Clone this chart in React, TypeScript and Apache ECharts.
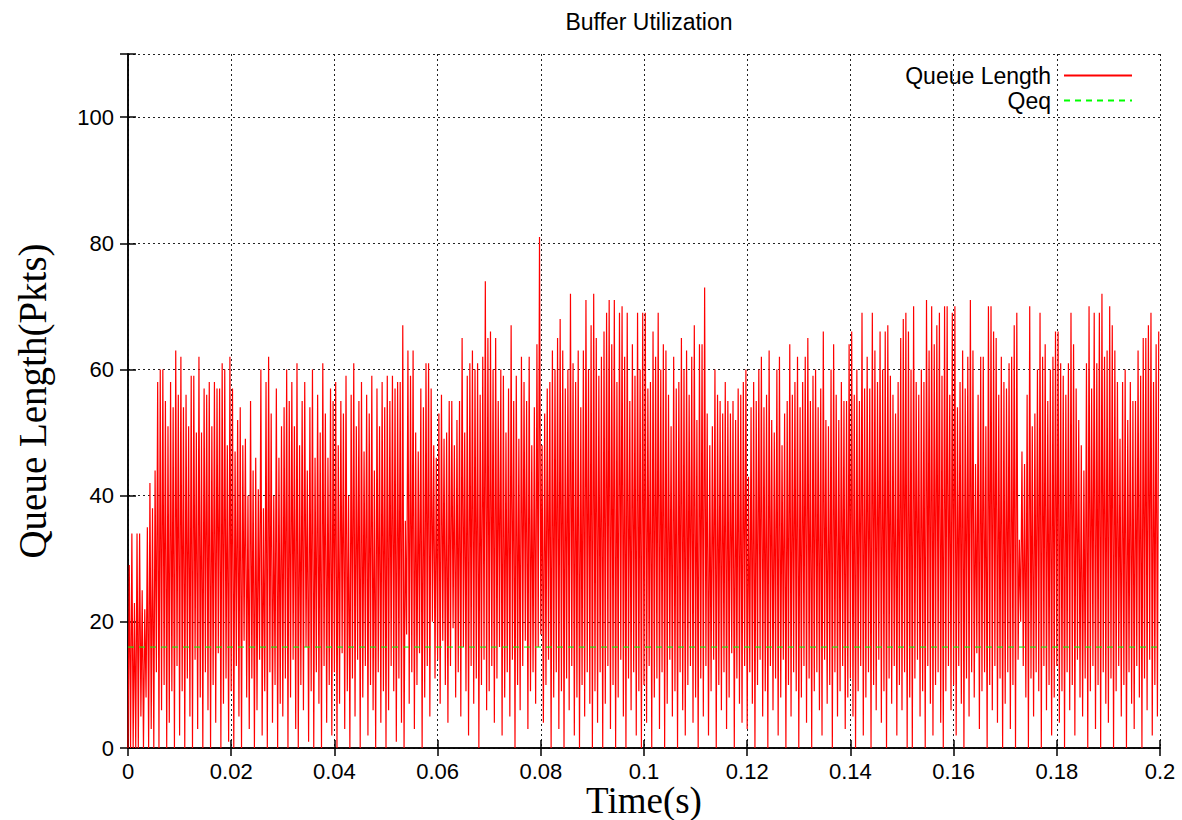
import React, { useEffect, useRef } from "react";
import * as echarts from "echarts";

// Sampling step of the queue trace (s); one peak and one trough per step
const stepSeconds = 0.0005;

// Per-cycle peak queue lengths (pkts), 20 cycles per 0.01 s row
const peaks: number[] = [
  29, 34, 23, 34, 34, 25, 22, 35, 42, 38, 44, 58, 60, 60, 55, 51, 58, 54, 63, 56,
  62, 54, 56, 51, 59, 59, 50, 62, 50, 57, 56, 58, 51, 58, 57, 57, 61, 60, 48, 62,
  57, 47, 52, 54, 48, 49, 40, 55, 44, 46, 41, 60, 38, 58, 62, 53, 40, 57, 46, 51,
  54, 60, 55, 58, 51, 61, 48, 55, 58, 44, 54, 60, 46, 56, 50, 61, 53, 46, 57, 55,
  58, 48, 55, 53, 59, 40, 56, 61, 51, 55, 58, 47, 56, 53, 59, 44, 57, 51, 58, 54,
  59, 55, 59, 57, 58, 58, 67, 36, 63, 59, 63, 50, 47, 57, 54, 61, 61, 57, 48, 46,
  53, 56, 49, 50, 55, 55, 48, 52, 55, 65, 50, 59, 61, 63, 60, 61, 56, 62, 74, 65,
  66, 60, 65, 55, 60, 59, 50, 57, 67, 55, 59, 49, 62, 58, 55, 62, 48, 54, 64, 81,
  48, 53, 57, 58, 63, 60, 65, 68, 63, 57, 60, 72, 61, 58, 63, 54, 63, 71, 60, 67,
  72, 65, 59, 62, 66, 69, 71, 64, 71, 58, 69, 70, 62, 69, 55, 64, 59, 69, 60, 69,
  69, 57, 58, 66, 62, 69, 60, 64, 63, 56, 51, 62, 57, 58, 65, 60, 63, 56, 62, 67,
  52, 64, 64, 73, 53, 48, 51, 60, 56, 55, 53, 58, 55, 53, 55, 52, 57, 56, 58, 60,
  43, 54, 58, 55, 60, 62, 54, 56, 63, 52, 50, 60, 62, 48, 53, 55, 64, 56, 58, 62,
  54, 58, 62, 65, 55, 59, 60, 54, 57, 66, 52, 51, 60, 64, 56, 52, 58, 55, 55, 64,
  66, 56, 60, 55, 69, 57, 62, 57, 69, 63, 58, 66, 60, 66, 67, 59, 56, 53, 58, 65,
  68, 69, 66, 60, 70, 58, 56, 60, 58, 71, 63, 70, 64, 67, 69, 59, 70, 70, 56, 69,
  70, 54, 58, 63, 57, 62, 71, 63, 45, 56, 62, 62, 51, 70, 70, 66, 65, 56, 62, 58,
  57, 61, 62, 67, 69, 33, 47, 45, 56, 70, 51, 53, 60, 69, 62, 64, 55, 60, 62, 66,
  66, 61, 59, 56, 61, 69, 64, 57, 52, 48, 44, 61, 70, 57, 69, 61, 69, 72, 62, 63,
  70, 67, 63, 58, 49, 58, 60, 52, 58, 55, 55, 63, 59, 65, 65, 67, 69, 58, 64, 66,
];

// Per-cycle trough queue lengths (pkts)
const troughs: number[] = [
  0, 0, 0, 0, 0, 5, 0, 8, 0, 3, 0, 12, 0, 6, 10, 0, 4, 9, 0, 13,
  2, 9, 0, 11, 5, 0, 14, 3, 8, 0, 12, 6, 0, 10, 4, 15, 0, 7, 11, 1,
  9, 0, 13, 5, 0, 17, 8, 3, 11, 0, 6, 14, 2, 9, 0, 12, 4, 10, 0, 7,
  5, 11, 0, 8, 14, 3, 0, 10, 6, 16, 1, 9, 0, 12, 7, 0, 13, 4, 10, 2,
  12, 0, 7, 15, 3, 9, 0, 11, 5, 14, 0, 8, 13, 2, 10, 6, 0, 12, 4, 9,
  0, 6, 13, 9, 1, 11, 4, 0, 18, 7, 12, 3, 10, 15, 0, 8, 13, 5, 20, 11,
  14, 7, 17, 10, 4, 13, 19, 8, 12, 5, 16, 9, 2, 13, 7, 11, 0, 10, 14, 6,
  9, 13, 4, 11, 16, 2, 8, 12, 5, 14, 0, 10, 6, 13, 17, 3, 9, 12, 7, 16,
  18, 4, 10, 14, 0, 8, 12, 3, 9, 0, 11, 6, 13, 2, 8, 0, 10, 5, 12, 7,
  0, 9, 4, 12, 0, 7, 13, 3, 10, 0, 8, 14, 5, 0, 11, 6, 12, 2, 9, 0,
  10, 4, 13, 0, 8, 11, 3, 12, 0, 7, 14, 5, 9, 0, 12, 6, 2, 10, 13, 4,
  8, 0, 11, 5, 13, 2, 9, 14, 0, 10, 6, 12, 3, 8, 15, 0, 11, 7, 4, 13,
  3, 12, 7, 0, 10, 14, 5, 9, 0, 13, 6, 11, 2, 8, 14, 0, 10, 5, 12, 9,
  0, 8, 13, 4, 11, 0, 9, 12, 6, 2, 14, 7, 10, 0, 12, 5, 9, 13, 3, 8,
  11, 5, 0, 9, 13, 2, 8, 12, 0, 10, 6, 14, 4, 9, 0, 11, 7, 13, 2, 10,
  6, 12, 0, 8, 0, 11, 14, 5, 9, 0, 13, 7, 2, 10, 12, 4, 0, 9, 13, 6,
  10, 2, 13, 7, 0, 11, 5, 12, 8, 15, 3, 9, 12, 0, 10, 6, 13, 4, 11, 0,
  7, 12, 3, 10, 0, 14, 20, 13, 8, 0, 11, 5, 12, 9, 0, 13, 6, 10, 2, 8,
  13, 4, 9, 0, 12, 6, 10, 2, 14, 8, 5, 11, 0, 9, 13, 3, 10, 0, 12, 7,
  4, 11, 0, 9, 13, 5, 10, 0, 12, 7, 3, 13, 8, 0, 11, 6, 14, 2, 10, 5,
];

// Equilibrium queue length (pkts)
const qeqValue = 16;
const timeRange = [0, 0.2];

const titleText = "Buffer Utilization";
const xName = "Time(s)";
const yName = "Queue Length(Pkts)";
const seriesNames = ["Queue Length", "Qeq"];

export default function App() {
  const ref = useRef<HTMLDivElement>(null);

  useEffect(() => {
    if (!ref.current) return;
    const chart = echarts.init(ref.current, undefined, { renderer: "svg" });

    const queueData: [number, number][] = [];
    for (let i = 0; i < peaks.length; i++) {
      const t = i * stepSeconds;
      queueData.push([t, troughs[i]]);
      queueData.push([t + stepSeconds / 2, peaks[i]]);
    }
    const qeqData: [number, number][] = [
      [timeRange[0], qeqValue],
      [timeRange[1], qeqValue],
    ];

    const sans = "Liberation Sans, Arial, sans-serif";
    const serif = "Liberation Serif, Times New Roman, serif";
    const tickFont = 22;

    const legendBase = {
      orient: "vertical",
      right: 49,
      padding: 0,
      align: "right",
      itemWidth: 68,
      itemHeight: 14,
      itemStyle: { opacity: 0 },
      textStyle: { fontFamily: sans, fontSize: 23, color: "#000", padding: [0, 8, 0, 0] },
      selectedMode: false,
    };

    chart.setOption({
      animation: false,
      backgroundColor: "#fff",
      title: {
        text: titleText,
        left: 644,
        textAlign: "center",
        top: 5,
        textStyle: { fontFamily: sans, fontSize: 23, fontWeight: "normal", color: "#000" },
      },
      legend: [
        { ...legendBase, data: [seriesNames[0]], top: 64 },
        { ...legendBase, data: [seriesNames[1]], top: 89 },
      ],
      grid: {
        left: 128,
        width: 1032,
        top: 54,
        height: 694,
        containLabel: false,
        outerBoundsMode: "none",
      },
      xAxis: [
        {
          type: "value",
          min: timeRange[0],
          max: timeRange[1],
          interval: 0.02,
          name: xName,
          nameLocation: "middle",
          nameGap: 38,
          nameMoveOverlap: false,
          nameTextStyle: { fontFamily: serif, fontSize: 37, lineHeight: 28, color: "#000" },
          axisLine: { show: true, lineStyle: { color: "#000", width: 1.5 } },
          axisTick: { show: true, inside: true, length: 8, lineStyle: { color: "#000", width: 1.5 } },
          axisLabel: {
            fontFamily: sans,
            fontSize: tickFont,
            lineHeight: 22,
            color: "#000",
            margin: 12,
            formatter: (v: number) => String(+v.toFixed(2)),
          },
          splitLine: { show: true, lineStyle: { color: "#222", type: [2, 3], width: 1 } },
        },
        {
          type: "value",
          position: "top",
          min: timeRange[0],
          max: timeRange[1],
          interval: 0.02,
          axisLine: { show: true, lineStyle: { color: "#000", width: 1.5 } },
          axisTick: { show: true, inside: true, length: 8, lineStyle: { color: "#000", width: 1.5 } },
          axisLabel: { show: false },
          splitLine: { show: false },
        },
      ],
      yAxis: [
        {
          type: "value",
          min: 0,
          max: 110,
          interval: 20,
          name: yName,
          nameLocation: "middle",
          nameGap: 76,
          nameMoveOverlap: false,
          nameRotate: 90,
          nameTextStyle: { fontFamily: serif, fontSize: 39, color: "#000" },
          axisLine: { show: true, lineStyle: { color: "#000", width: 1.5 } },
          axisTick: { show: true, inside: true, length: 8, lineStyle: { color: "#000", width: 1.5 } },
          axisLabel: {
            fontFamily: sans,
            fontSize: tickFont,
            color: "#000",
            margin: 14,
            formatter: (v: number) => (v > 100 ? "" : String(v)),
          },
          splitLine: { show: true, lineStyle: { color: "#222", type: [2, 3], width: 1 } },
        },
        {
          type: "value",
          position: "right",
          min: 0,
          max: 110,
          interval: 20,
          axisLine: { show: true, lineStyle: { color: "#000", width: 1.5 } },
          axisTick: { show: true, inside: true, length: 8, lineStyle: { color: "#000", width: 1.5 } },
          axisLabel: { show: false },
          splitLine: { show: false },
        },
      ],
      series: [
        {
          name: seriesNames[0],
          type: "line",
          xAxisIndex: 0,
          yAxisIndex: 0,
          data: queueData,
          symbol: "none",
          showSymbol: false,
          lineStyle: { color: "#ff0000", width: 1.2 },
          itemStyle: { color: "#ff0000" },
          clip: true,
          z: 2,
        },
        {
          name: seriesNames[1],
          type: "line",
          xAxisIndex: 0,
          yAxisIndex: 0,
          data: qeqData,
          symbol: "none",
          showSymbol: false,
          lineStyle: { color: "#00ff00", width: 1, type: [6, 5] },
          itemStyle: { color: "#00ff00" },
          z: 3,
        },
      ],
    });

    return () => chart.dispose();
  }, []);

  return (
    <div
      ref={ref}
      style={{ position: "absolute", left: 0, top: 0, width: 1182, height: 820 }}
    />
  );
}
